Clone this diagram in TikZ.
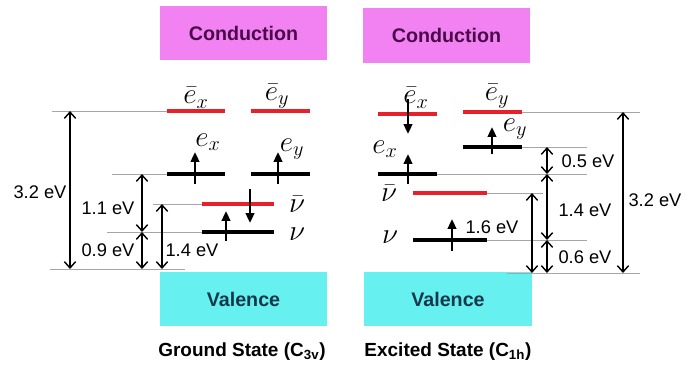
\documentclass[tikz,border=0pt]{standalone}
\usepackage{fontspec}
\setmainfont{Liberation Sans}
\usetikzlibrary{arrows.meta}
\definecolor{condfill}{HTML}{F282F2}
\definecolor{condtext}{HTML}{4A0A4A}
\definecolor{valfill}{HTML}{66F0F0}
\definecolor{valtext}{HTML}{16384A}
\definecolor{levred}{HTML}{E8202A}
\begin{document}
\begin{tikzpicture}[x=0.025cm,y=-0.025cm,font=\fontsize{13}{13}\selectfont,
 band/.style={fill=#1,minimum width=4.175cm,minimum height=1.35cm,inner sep=0,font=\fontsize{14}{14}\selectfont\bfseries},
 lev/.style={line width=2.5pt,draw=#1},
 lev/.default=black,
 guide/.style={draw=black!35,line width=.5pt},
 dim/.style={{Straight Barb[length=4.5pt,width=8pt]}-{Straight Barb[length=4.5pt,width=8pt]},line width=1pt},
 spin/.style={-{Triangle[length=7pt,width=6pt]},line width=2pt},
 sym/.style={font=\fontsize{21}{21}\selectfont,inner sep=0},
 statecap/.style={font=\fontsize{13.5}{13.5}\selectfont\bfseries}]
\useasboundingbox (0,0) rectangle (700,364);
\node[band=condfill,text=condtext] (condL) at (243.5,33) {Conduction};
\node[band=condfill,text=condtext] (condR) at (446.5,35.5) {Conduction};
\node[band=valfill,text=valtext] (valL) at (243.5,299) {Valence};
\node[band=valfill,text=valtext] (valR) at (448,299) {Valence};
\node[statecap] (capL) at (242,352) {Ground State (C\textsubscript{3v})};
\node[statecap] (capR) at (448,352) {Excited State (C\textsubscript{1h})};
% ground state
\coordinate (gEx1) at (167,111); \coordinate (gEx2) at (225,111);
\coordinate (gEy1) at (251,111); \coordinate (gEy2) at (310,111);
\coordinate (gex1) at (167,174); \coordinate (gex2) at (225,174);
\coordinate (gey1) at (251,174); \coordinate (gey2) at (310,174);
\coordinate (gNu1) at (202,204); \coordinate (gNu2) at (274,204);
\coordinate (gnu1) at (202,232); \coordinate (gnu2) at (274,232);
\coordinate (gtop) at (52,111); \coordinate (gexg) at (112,174);
\coordinate (gNug) at (153,204); \coordinate (gnug) at (107,232);
\coordinate (gbot1) at (50,269); \coordinate (gbot2) at (185,269);
\coordinate (gd1) at (70,0); \coordinate (gd2) at (142,0); \coordinate (gd3) at (162,0);
\draw[guide] (gtop) -- (gEx1);
\draw[guide] (gexg) -- (gex1);
\draw[guide] (gNug) -- (gNu1);
\draw[guide] (gnug) -- (gnu1);
\draw[guide] (gbot1) -- (gbot2);
\draw[lev=levred] (gEx1) -- (gEx2);
\draw[lev=levred] (gEy1) -- (gEy2);
\draw[lev] (gex1) -- (gex2);
\draw[lev] (gey1) -- (gey2);
\draw[lev=levred] (gNu1) -- (gNu2);
\draw[lev] (gnu1) -- (gnu2);
\draw[dim] (gd1 |- gtop) -- (gd1 |- gbot1);
\draw[dim] (gd2 |- gexg) -- (gd2 |- gnug);
\draw[dim] (gd2 |- gnug) -- (gd2 |- gbot1);
\draw[dim] (gd3 |- gNug) -- (gd3 |- gbot1);
\node (g32) at (40,192) {3.2 eV};
\node (g11) at (108,208) {1.1 eV};
\node (g09) at (108,250) {0.9 eV};
\node (g14) at (192,250) {1.4 eV};
\node[sym] (lgEx) at (196,98) {$\bar{e}_x$};
\node[sym] (lgEy) at (277,96) {$\bar{e}_y$};
\node[sym] (lgex) at (208,142) {$e_x$};
\node[sym] (lgey) at (292,149) {$e_y$};
\node[sym] (lgNu) at (297,204) {$\bar{\nu}$};
\node[sym] (lgnu) at (297,234) {$\nu$};
\foreach \x/\a/\b in {195/184/152,278/184/152,250/189/223,226/241/211}
 \draw[spin] (\x,\a) -- (\x,\b);
% excited state
\coordinate (eEx1) at (378,114); \coordinate (eEx2) at (437,114);
\coordinate (eEy1) at (463,112); \coordinate (eEy2) at (522,112);
\coordinate (eey1) at (463,147); \coordinate (eey2) at (522,147);
\coordinate (eex1) at (378,174); \coordinate (eex2) at (437,174);
\coordinate (eNu1) at (413,193); \coordinate (eNu2) at (487,193);
\coordinate (enu1) at (413,240); \coordinate (enu2) at (487,240);
\coordinate (etop) at (640,112); \coordinate (eeyg) at (587,147);
\coordinate (eexg) at (587,174); \coordinate (eNug) at (543,193);
\coordinate (enug) at (587,240);
\coordinate (ebot1) at (507,273); \coordinate (ebot2) at (640,273);
\coordinate (ed1) at (532,0); \coordinate (ed2) at (547,0); \coordinate (ed3) at (623,0);
\draw[guide] (eEy2) -- (etop);
\draw[guide] (eey2) -- (eeyg);
\draw[guide] (eex2) -- (eexg);
\draw[guide] (eNu2) -- (eNug);
\draw[guide] (enu2) -- (enug);
\draw[guide] (ebot1) -- (ebot2);
\draw[lev=levred] (eEx1) -- (eEx2);
\draw[lev=levred] (eEy1) -- (eEy2);
\draw[lev] (eey1) -- (eey2);
\draw[lev] (eex1) -- (eex2);
\draw[lev=levred] (eNu1) -- (eNu2);
\draw[lev] (enu1) -- (enu2);
\draw[dim] (ed1 |- eNug) -- (ed1 |- ebot1);
\draw[dim] (ed2 |- eeyg) -- (ed2 |- eexg);
\draw[dim] (ed2 |- eexg) -- (ed2 |- enug);
\draw[dim] (ed2 |- enug) -- (ed2 |- ebot1);
\draw[dim] (ed3 |- etop) -- (ed3 |- ebot1);
\node (e05) at (588,161) {0.5 eV};
\node (e14) at (585,210) {1.4 eV};
\node (e06) at (585,257) {0.6 eV};
\node (e32) at (655,200) {3.2 eV};
\node (e16) at (492,227) {1.6 eV};
\node[sym] (leEx) at (416,98) {$\bar{e}_x$};
\node[sym] (leEy) at (497,96) {$\bar{e}_y$};
\node[sym] (leey) at (515,129) {$e_y$};
\node[sym] (leex) at (385,149) {$e_x$};
\node[sym] (leNu) at (389,193) {$\bar{\nu}$};
\node[sym] (lenu) at (390,237) {$\nu$};
\foreach \x/\a/\b in {408/99/134,492/154/127,408/184/154,452/251/219}
 \draw[spin] (\x,\a) -- (\x,\b);
\end{tikzpicture}
\end{document}
